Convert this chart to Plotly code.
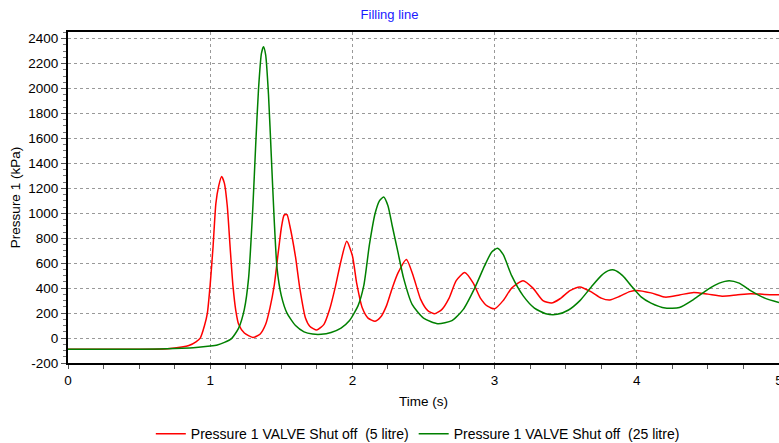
import plotly.graph_objects as go

# Red series: Pressure 1 VALVE Shut off (5 litre)
t_5 = [0, 0.5, 0.7, 0.8, 0.85, 0.9, 0.93, 0.96, 0.98, 1.0, 1.02, 1.04, 1.06, 1.08, 1.1,
       1.12, 1.14, 1.16, 1.18, 1.2, 1.24, 1.3, 1.35, 1.39, 1.42, 1.45, 1.48, 1.5, 1.52,
       1.54, 1.56, 1.6, 1.63, 1.67, 1.7, 1.75, 1.8, 1.84, 1.88, 1.92, 1.96, 2.0, 2.03,
       2.07, 2.11, 2.16, 2.2, 2.24, 2.28, 2.32, 2.38, 2.43, 2.48, 2.53, 2.58, 2.63, 2.68,
       2.73, 2.79, 2.85, 2.9, 2.95, 3.0, 3.06, 3.12, 3.2, 3.27, 3.34, 3.4, 3.46, 3.53,
       3.6, 3.68, 3.75, 3.81, 3.88, 3.95, 4.0, 4.1, 4.2, 4.3, 4.4, 4.5, 4.6, 4.7, 4.8,
       4.9, 5.0]
p_5 = [-90, -90, -85, -72, -60, -30, 0, 100, 200, 430, 730, 1080, 1220, 1295, 1240,
       1060, 730, 420, 220, 110, 40, 5, 30, 110, 240, 420, 700, 880, 985,
       990, 900, 650, 400, 160, 95, 65, 110, 230, 410, 620, 775, 660, 440,
       240, 160, 135, 170, 260, 400, 520, 630, 490, 310, 220, 195, 230, 320,
       460, 525, 440, 320, 255, 235, 300, 400, 460, 400, 300, 280, 315, 380,
       410, 370, 320, 305, 335, 372, 382, 362, 328, 345, 366, 352, 336, 345, 356,
       350, 347]

# Green series: Pressure 1 VALVE Shut off (25 litre)
t_25 = [0, 0.5, 0.8, 0.9, 1.0, 1.05, 1.1, 1.15, 1.2, 1.24, 1.27, 1.3, 1.32, 1.34, 1.36,
        1.375, 1.39, 1.41, 1.43, 1.45, 1.47, 1.5, 1.54, 1.6, 1.66, 1.72, 1.78, 1.85,
        1.92, 1.98, 2.04, 2.08, 2.12, 2.16, 2.19, 2.22, 2.25, 2.28, 2.32, 2.36, 2.42,
        2.5, 2.6, 2.7, 2.78, 2.86, 2.93, 2.98, 3.02, 3.06, 3.12, 3.2, 3.28, 3.36, 3.44,
        3.52, 3.6, 3.68, 3.75, 3.8, 3.84, 3.9, 3.96, 4.03, 4.1, 4.2, 4.3, 4.4, 4.5,
        4.58, 4.65, 4.72, 4.8, 4.9, 5.0]
p_25 = [-90, -90, -82, -76, -64, -55, -35, -5, 80, 230, 480, 1050, 1550, 2000, 2280,
        2335, 2270, 1950, 1450, 950, 560, 340, 200, 100, 50, 32, 30, 45,
        80, 140, 260, 420, 750, 1000, 1100, 1130, 1060, 900, 690, 480, 270,
        160, 115, 140, 230, 400, 580, 690, 720, 670, 500, 340, 240, 195, 190,
        225, 300, 410, 500, 540, 545, 500, 420, 330, 280, 240, 245, 310, 390,
        440, 460, 440, 380, 320, 285]

y_ticks = list(range(-200, 2401, 200))
x_ticks = [0, 1, 2, 3, 4, 5]

font_family = "Liberation Sans, Arial, sans-serif"

fig = go.Figure()
fig.add_trace(go.Scatter(x=t_5, y=p_5, mode="lines",
                         name="Pressure 1 VALVE Shut off  (5 litre)",
                         line=dict(color="#ff0000", width=1.5, shape="spline", smoothing=0.6)))
fig.add_trace(go.Scatter(x=t_25, y=p_25, mode="lines",
                         name="Pressure 1 VALVE Shut off  (25 litre)",
                         line=dict(color="#008000", width=1.5, shape="spline", smoothing=0.6)))

fig.update_layout(
    width=779, height=443,
    margin=dict(l=68, r=0, t=32, b=80, autoexpand=False),
    paper_bgcolor="white", plot_bgcolor="white",
    font=dict(family=font_family, size=13.5, color="black"),
    title=dict(text="Filling line", x=0.5, xanchor="center", y=0.967, yanchor="middle",
               font=dict(color="#1a1aff", size=13)),
    showlegend=True,
    legend=dict(orientation="h", x=0.492, xanchor="center", y=-0.215, yanchor="middle",
                font=dict(size=14), itemwidth=30, bgcolor="rgba(0,0,0,0)"),
)

fig.update_xaxes(
    range=[0, 5], tickvals=x_ticks, ticktext=[str(v) for v in x_ticks],
    ticklabeloverflow="allow",
    showline=True, linecolor="black", linewidth=2, mirror=True,
    ticks="outside", ticklen=4, tickcolor="#555", tickwidth=1,
    minor=dict(dtick=0.25, ticks="outside", ticklen=4, tickcolor="#555", showgrid=False),
    showgrid=True, gridcolor="#999999", griddash="dot", gridwidth=1,
    zeroline=False,
    title=dict(text="Time (s)", font=dict(size=13.5), standoff=9),
)
fig.update_yaxes(
    range=[-200, 2453], tickvals=y_ticks, ticktext=[str(v) for v in y_ticks],
    showline=True, linecolor="black", linewidth=2,
    ticks="outside", ticklen=5, tickcolor="#555", tickwidth=1,
    minor=dict(dtick=50, ticks="outside", ticklen=3, tickcolor="#777", showgrid=False),
    showgrid=True, gridcolor="#999999", griddash="dot", gridwidth=1,
    zeroline=False,
    title=dict(text="Pressure 1 (kPa)", font=dict(size=13.5), standoff=5),
)

fig.write_html("out.html")
